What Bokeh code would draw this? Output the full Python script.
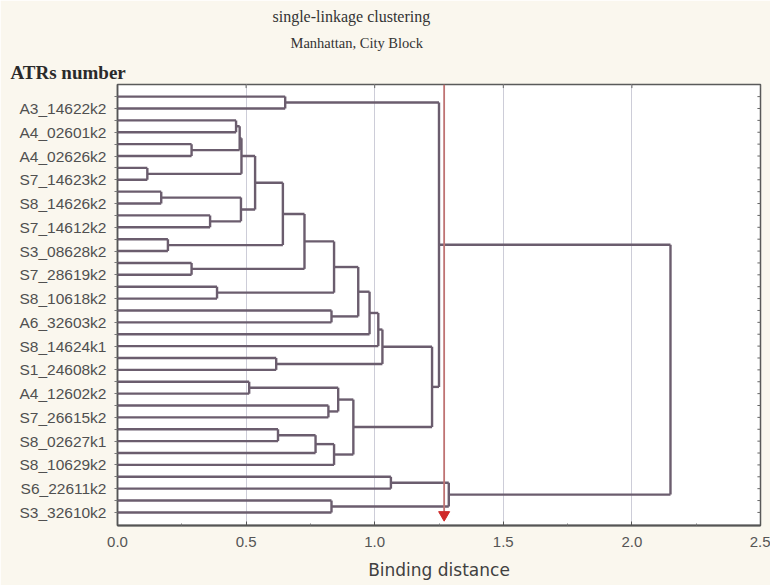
from bokeh.plotting import figure
from bokeh.models import Range1d, FixedTicker, Title, ColumnDataSource
from bokeh.embed import file_html
from bokeh.resources import INLINE

# ---------------- data ----------------
title_line1 = "single-linkage clustering"
title_line2 = "Manhattan, City Block"
y_title = "ATRs number"
x_title = "Binding distance"

# labels are printed on every second object (odd positions)
leaf_labels = ["A3_14622k2", "A4_02601k2", "A4_02626k2", "S7_14623k2", "S8_14626k2",
               "S7_14612k2", "S3_08628k2", "S7_28619k2", "S8_10618k2", "A6_32603k2",
               "S8_14624k1", "S1_24608k2", "A4_12602k2", "S7_26615k2", "S8_02627k1",
               "S8_10629k2", "S6_22611k2", "S3_32610k2"]
n_leaves = 36

# linkage: node id = n_leaves + index
merge_left = [0, 2, 4, 6, 37, 40, 8, 10, 42, 41, 12, 45, 14, 47, 16, 49, 18, 51, 53, 54,
              22, 55, 24, 26, 58, 28, 61, 62, 60, 57, 36, 32, 34, 67, 66]
merge_right = [1, 3, 5, 7, 38, 39, 9, 11, 43, 44, 13, 46, 15, 48, 17, 50, 19, 52, 20, 21,
               23, 56, 25, 27, 59, 29, 30, 31, 63, 64, 65, 33, 35, 68, 69]
merge_height = [0.652, 0.461, 0.288, 0.116, 0.475, 0.482, 0.170, 0.360, 0.480, 0.535,
                0.196, 0.643, 0.288, 0.727, 0.387, 0.842, 0.832, 0.936, 0.980, 1.014,
                0.617, 1.030, 0.512, 0.820, 0.858, 0.624, 0.770, 0.842, 0.917, 1.223,
                1.250, 1.063, 0.832, 1.288, 2.150]

x_ticks = [0.0, 0.5, 1.0, 1.5, 2.0, 2.5]
cut_distance = 1.27

# ---------------- geometry from linkage ----------------
pos = {k: float(k) for k in range(n_leaves)}
hgt = {k: 0.0 for k in range(n_leaves)}
x0, x1, y0, y1 = [], [], [], []
for i, (l, r, h) in enumerate(zip(merge_left, merge_right, merge_height)):
    node = n_leaves + i
    for c in (l, r):
        x0.append(hgt[c]); x1.append(h); y0.append(pos[c]); y1.append(pos[c])
    x0.append(h); x1.append(h); y0.append(pos[l]); y1.append(pos[r])
    pos[node] = (pos[l] + pos[r]) / 2.0
    hgt[node] = h

src = ColumnDataSource(dict(x0=x0, x1=x1, y0=y0, y1=y1))

y_top = -1.02
y_bot = n_leaves - 1 + 1.1

p = figure(width=770, height=585,
           min_border_left=117, min_border_right=10, min_border_top=84, min_border_bottom=60,
           x_range=Range1d(0, 2.5), y_range=Range1d(y_bot, y_top),
           output_backend="svg", toolbar_location=None)

p.background_fill_color = "white"
p.border_fill_color = "#faf7ee"
p.outline_line_color = "#5a5a5a"
p.outline_line_width = 1.5

# grid
p.xgrid.ticker = FixedTicker(ticks=x_ticks)
p.xgrid.grid_line_color = "#cdcdd8"
p.xgrid.grid_line_width = 1
p.ygrid.visible = False

# x axis
xa = p.xaxis[0]
xa.ticker = FixedTicker(ticks=x_ticks, minor_ticks=[t + 0.25 for t in x_ticks[:-1]])
xa.major_label_overrides = {t: f"{t:.1f}" for t in x_ticks}
xa.major_label_text_font = "Liberation Sans"
xa.major_label_text_font_size = "15px"
xa.major_label_text_color = "#555555"
xa.major_label_standoff = 11
xa.major_tick_in = 4
xa.major_tick_out = 0
xa.minor_tick_in = 2
xa.minor_tick_out = 0
xa.axis_line_color = "#555555"
xa.axis_line_width = 2
xa.major_tick_line_color = "#555555"
xa.minor_tick_line_color = "#777777"
xa.axis_label = x_title
xa.axis_label_text_font = "DejaVu Sans"
xa.axis_label_text_font_size = "17px"
xa.axis_label_text_font_style = "normal"
xa.axis_label_text_color = "#404040"
xa.axis_label_standoff = 10

# y axis (objects)
ya = p.yaxis[0]
ya.ticker = FixedTicker(ticks=list(range(n_leaves)), minor_ticks=[])
overrides = {}
for k in range(n_leaves):
    overrides[k] = leaf_labels[k // 2] if k % 2 == 1 else ""
ya.major_label_overrides = overrides
ya.major_label_text_font = "Liberation Sans"
ya.major_label_text_font_size = "15.5px"
ya.major_label_text_color = "#505050"
ya.major_label_standoff = 8
ya.major_tick_in = 0
ya.major_tick_out = 3
ya.axis_line_color = "#555555"
ya.axis_line_width = 1.5
ya.major_tick_line_color = "#777777"

# tree
p.segment(x0="x0", y0="y0", x1="x1", y1="y1", source=src,
          line_color="#6b5d6e", line_width=2.4)

# small ticks on the right and top frame edges
rx = x_ticks[-1]
p.segment(x0=[rx - 0.012] * n_leaves, x1=[rx] * n_leaves,
          y0=list(range(n_leaves)), y1=list(range(n_leaves)),
          line_color="#666666", line_width=1)
p.segment(x0=x_ticks, x1=x_ticks, y0=[y_top] * len(x_ticks), y1=[y_top + 0.3] * len(x_ticks),
          line_color="#666666", line_width=1)

# cut line with arrow
p.segment(x0=[cut_distance], x1=[cut_distance], y0=[y_top], y1=[n_leaves - 1 + 0.1],
          line_color="#bf7373", line_width=1.8)
p.scatter(x=[cut_distance], y=[n_leaves - 1 + 0.2], marker="inverted_triangle",
          size=11, fill_color="#d02a2a", line_color="#d02a2a")

# titles (added nearest-to-frame first)
p.add_layout(Title(text=y_title, align="left", offset=-107, standoff=3,
                   text_font="Liberation Serif", text_font_size="19px",
                   text_font_style="bold", text_color="#2a2a2a"), "above")
p.add_layout(Title(text=title_line2, align="left", offset=173, standoff=15,
                   text_font="Liberation Serif", text_font_size="14.5px",
                   text_font_style="normal", text_color="#333333"), "above")
p.add_layout(Title(text=title_line1, align="left", offset=155, standoff=2,
                   text_font="Liberation Serif", text_font_size="16px",
                   text_font_style="normal", text_color="#333333"), "above")

open("out.html", "w").write(file_html(p, INLINE))
